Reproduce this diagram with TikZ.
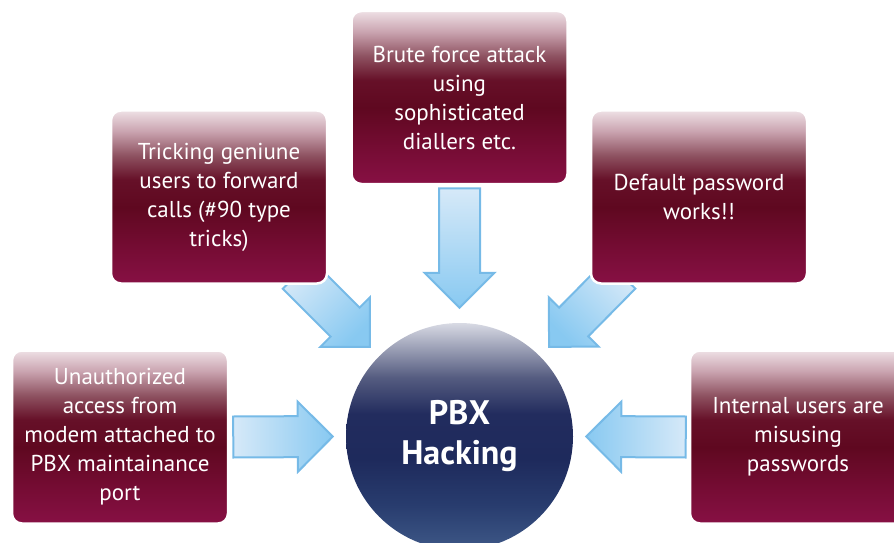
\documentclass[tikz,border=0pt]{standalone}
\usepackage{fontspec}
\setmainfont{PT Sans}
\usetikzlibrary{calc}

\definecolor{wineB}{RGB}{135,16,68}
\definecolor{wineL}{RGB}{118,12,52}
\definecolor{wineD}{RGB}{95,8,32}
\definecolor{wineM}{RGB}{102,16,40}
\definecolor{wineP}{RGB}{142,82,97}
\definecolor{wineQ}{RGB}{202,164,176}
\definecolor{wineT}{RGB}{238,224,229}
\definecolor{navyB}{RGB}{62,88,135}
\definecolor{navyL}{RGB}{40,60,110}
\definecolor{navyD}{RGB}{30,42,92}
\definecolor{navyM}{RGB}{34,44,94}
\definecolor{navyP}{RGB}{85,92,128}
\definecolor{navyT}{RGB}{216,218,228}
\definecolor{arrowlight}{RGB}{214,233,248}
\definecolor{arrowdark}{RGB}{136,201,241}
\definecolor{arrowline}{RGB}{118,186,231}

\pgfdeclareverticalshading{wine}{100bp}{color(0bp)=(wineB); color(25bp)=(wineB); color(35bp)=(wineL); color(47bp)=(wineD); color(55bp)=(wineM); color(62bp)=(wineP); color(69bp)=(wineQ); color(75bp)=(wineT); color(100bp)=(wineT)}
\pgfdeclareverticalshading{navy}{100bp}{color(0bp)=(navyB); color(25bp)=(navyB); color(35bp)=(navyL); color(45bp)=(navyD); color(55bp)=(navyM); color(63bp)=(navyP); color(75bp)=(navyT); color(100bp)=(navyT)}

\pgfdeclarelayer{background}
\pgfsetlayers{background,main}

\newcommand\fatarrow[3]{%
  \coordinate (#1b) at ($(#2)!35pt!(#1)$);
  \path[arr, shading angle=#3] ($(#1)!20.5pt!90:(#2)$) -- ($(#1b)!20.5pt!-90:(#1)$) -- ($(#1b)!35pt!-90:(#1)$) -- (#2) -- ($(#1b)!35pt!90:(#1)$) -- ($(#1b)!20.5pt!90:(#1)$) -- ($(#1)!20.5pt!-90:(#2)$) -- cycle;
}

\begin{document}
\begin{tikzpicture}[x=1pt, y=1pt,
  box/.style={rounded corners=10pt, draw=white, line width=2.5pt, shade, shading=wine, minimum width=216pt, minimum height=173pt, inner sep=0pt, text=white, align=center, font=\fontsize{23}{29}\selectfont},
  hack/.style={circle, shade, shading=navy, minimum size=227pt, inner sep=0pt, text=white, align=center, font=\bfseries\fontsize{34}{40}\selectfont},
  arr/.style={draw=arrowline, line width=2pt, line join=miter, top color=arrowlight, bottom color=arrowdark}]
\clip (0,0) rectangle (894,542);
\node[hack] (hack) at (459.5,105.5) {PBX\\Hacking};
\node[box] (top) at (459.5,444.5) {Brute force attack\\using\\sophisticated\\diallers etc.};
\node[box] (tl) at (219,345) {Tricking geniune\\users to forward\\calls (\#90 type\\tricks)};
\node[box] (tr) at (699,345) {Default password\\works!!};
\node[box] (bl) at (120,105) {Unauthorized\\access from\\modem attached to\\PBX maintainance\\port};
\node[box] (br) at (798,105) {Internal users are\\misusing\\passwords};
\coordinate (t1) at ([yshift=-3pt]top.south);
\coordinate (h1) at ([yshift=15pt]hack.north);
\coordinate (t2) at ([shift={(-31,10.5)}]tl.south east);
\coordinate (h2) at ([shift={(-9.2,9.2)}]hack.135);
\coordinate (t3) at ([shift={(31,10.5)}]tr.south west);
\coordinate (h3) at ([shift={(9.2,9.2)}]hack.45);
\coordinate (t4) at ([xshift=4pt]bl.east);
\coordinate (h4) at ([xshift=-13pt]hack.west);
\coordinate (t5) at ([xshift=-3pt]br.west);
\coordinate (h5) at ([xshift=13pt]hack.east);
\begin{pgfonlayer}{background}
\fatarrow{t1}{h1}{0}
\fatarrow{t2}{h2}{45}
\fatarrow{t3}{h3}{-45}
\fatarrow{t4}{h4}{90}
\fatarrow{t5}{h5}{270}
\end{pgfonlayer}
\end{tikzpicture}
\end{document}
